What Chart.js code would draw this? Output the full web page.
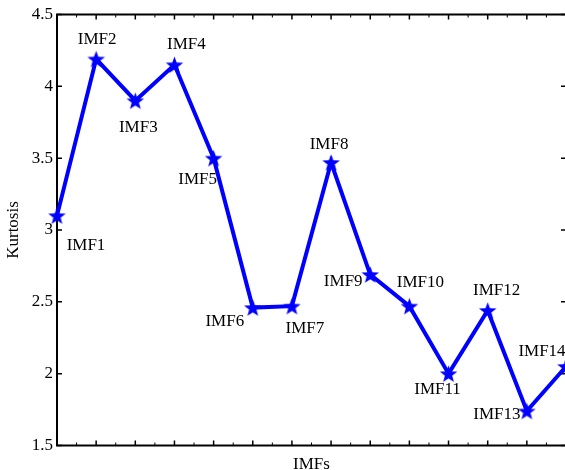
<!DOCTYPE html>
<html>
<head>
<meta charset="utf-8">
<script src="https://cdn.jsdelivr.net/npm/chart.js@4/dist/chart.umd.min.js"></script>
<style>
  html, body { margin: 0; padding: 0; overflow: hidden; background: #fff; }
  canvas { display: block; }
</style>
</head>
<body>
<canvas id="chart" width="568" height="470" style="width:568px;height:470px"></canvas>
<script>
// values
const IMF_NAMES = ["IMF1", "IMF2", "IMF3", "IMF4", "IMF5", "IMF6", "IMF7",
                   "IMF8", "IMF9", "IMF10", "IMF11", "IMF12", "IMF13", "IMF14"];
const IMF_INDEX = [1, 2, 3, 4, 5, 6, 7, 8, 9, 10, 11, 12, 13, 14];
const KURTOSIS = [3.10, 4.19, 3.90, 4.15, 3.50, 2.46, 2.47, 3.47, 2.69, 2.47, 2.00, 2.44, 1.74, 2.05];
const Y_TICKS = [1.5, 2, 2.5, 3, 3.5, 4, 4.5];
const X_MAJOR_TICKS = [1, 2, 3, 4, 5, 6, 7, 8, 9, 10, 11, 12, 13, 14];
const X_MINOR_TICKS = [1.5, 2.5, 3.5, 4.5, 5.5, 6.5, 7.5, 8.5, 9.5, 10.5, 11.5, 12.5, 13.5];

// where each point's name sits relative to its marker (px)
const LABEL_OFFSETS = [[29, 30], [1, -20], [3, 27], [12, -20], [-16, 21], [-28, 14], [13, 22],
                       [-2, -18], [-27, 7], [11, -24], [-11, 16], [9, -20], [-30, 4], [-24, -15]];

const FONT = "Liberation Serif, 'Times New Roman', serif";
const BLUE = "#0000ff";

function starImage(outer, inner) {
  const size = Math.ceil(outer * 2) + 2;
  const c = document.createElement("canvas");
  c.width = size;
  c.height = size;
  const g = c.getContext("2d");
  g.translate(size / 2, size / 2 + outer * 0.1);
  g.beginPath();
  for (let i = 0; i < 10; i++) {
    const r = i % 2 === 0 ? outer : inner;
    const a = -Math.PI / 2 + (i * Math.PI) / 5;
    g.lineTo(r * Math.cos(a), r * Math.sin(a));
  }
  g.closePath();
  g.fillStyle = BLUE;
  g.fill();
  return c;
}

// box around the plot with inward ticks, like the original figure
const frame = {
  id: "frame",
  beforeDatasetsDraw(chart) {
    const { ctx, chartArea: a, scales: { x, y } } = chart;
    ctx.save();
    ctx.strokeStyle = "#000";
    ctx.lineWidth = 1.5;
    ctx.beginPath();
    X_MAJOR_TICKS.forEach((v) => {
      const px = x.getPixelForValue(v);
      ctx.moveTo(px, a.bottom); ctx.lineTo(px, a.bottom - 5);
      ctx.moveTo(px, a.top); ctx.lineTo(px, a.top + 5);
    });
    Y_TICKS.forEach((v) => {
      const py = y.getPixelForValue(v);
      ctx.moveTo(a.left, py); ctx.lineTo(a.left + 5, py);
      ctx.moveTo(a.right, py); ctx.lineTo(a.right - 5, py);
    });
    ctx.stroke();
    ctx.lineWidth = 1;
    ctx.beginPath();
    X_MINOR_TICKS.forEach((v) => {
      const px = x.getPixelForValue(v);
      ctx.moveTo(px, a.bottom); ctx.lineTo(px, a.bottom - 3);
      ctx.moveTo(px, a.top); ctx.lineTo(px, a.top + 3);
    });
    ctx.stroke();
    ctx.lineWidth = 2;
    ctx.strokeRect(a.left, a.top, a.right - a.left, a.bottom - a.top);
    ctx.restore();
  },
};

const pointNames = {
  id: "pointNames",
  afterDatasetsDraw(chart) {
    const { ctx } = chart;
    const pts = chart.getDatasetMeta(0).data;
    ctx.save();
    ctx.font = `17px ${FONT}`;
    ctx.fillStyle = "#000";
    ctx.textAlign = "center";
    ctx.textBaseline = "middle";
    pts.forEach((p, i) => {
      const [dx, dy] = LABEL_OFFSETS[i];
      ctx.fillText(IMF_NAMES[i], p.x + dx, p.y + dy);
    });
    ctx.restore();
  },
};

new Chart(document.getElementById("chart"), {
  type: "line",
  data: {
    datasets: [
      {
        label: "Kurtosis",
        data: IMF_INDEX.map((v, i) => ({ x: v, y: KURTOSIS[i] })),
        borderColor: BLUE,
        backgroundColor: BLUE,
        borderWidth: 4,
        tension: 0,
        pointStyle: starImage(9.2, 3.8),
        pointRadius: 9,
        clip: false,
      },
    ],
  },
  options: {
    responsive: false,
    animation: false,
    events: [],
    layout: { autoPadding: false, padding: { top: 14.5, right: 2, left: 0, bottom: 0 } },
    plugins: { legend: { display: false }, tooltip: { enabled: false } },
    scales: {
      x: {
        type: "linear",
        min: 1,
        max: 14,
        ticks: { display: false },
        grid: { display: false, drawTicks: false },
        border: { display: false },
        title: {
          display: true,
          text: "IMFs",
          color: "#000",
          font: { family: FONT, size: 17 },
          padding: { top: 0, bottom: -5 },
        },
        afterFit: (s) => { s.height = 24.5; },
      },
      y: {
        min: 1.5,
        max: 4.5,
        afterBuildTicks: (s) => { s.ticks = Y_TICKS.map((v) => ({ value: v })); },
        ticks: {
          padding: 4,
          color: "#000",
          font: { family: FONT, size: 17 },
          callback: (v) => String(v),
        },
        grid: { display: false, drawTicks: false },
        border: { display: false },
        title: {
          display: true,
          text: "Kurtosis",
          color: "#000",
          font: { family: FONT, size: 17 },
          padding: { top: 3.5, bottom: 0 },
        },
        afterFit: (s) => { s.width = 57; },
      },
    },
  },
  plugins: [frame, pointNames],
});
</script>
</body>
</html>
